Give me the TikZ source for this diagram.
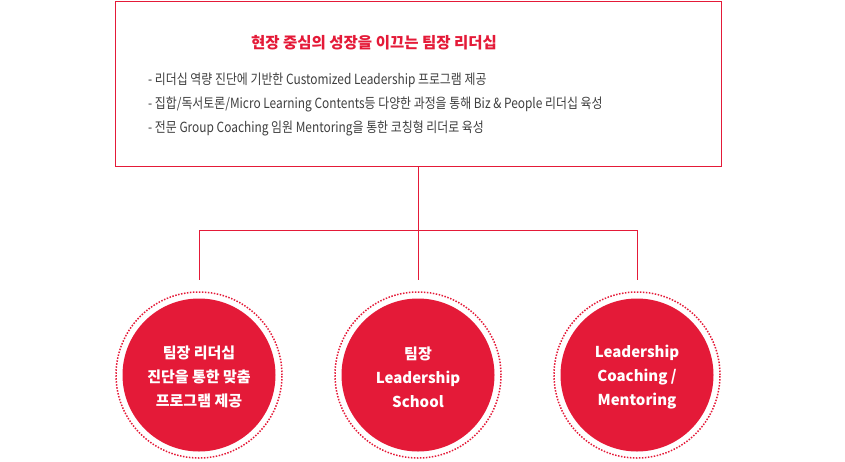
\documentclass[tikz,border=0pt]{standalone}
\usepackage{fontspec}
\setmainfont{Noto Sans CJK KR}
\usepackage{xcolor}
\usetikzlibrary{positioning}

\definecolor{leadred}{RGB}{228,26,56}
\definecolor{bodygray}{RGB}{62,62,62}

\begin{document}
\begin{tikzpicture}[x=1pt, y=-1pt, node distance=51.5pt,
		link/.style={draw=leadred, line width=1pt},
		topbox/.style={draw=leadred, line width=1pt, minimum width=606pt, minimum height=165pt, inner sep=0pt},
		points/.style={text=bodygray, font=\fontsize{14}{24}\selectfont\addfontfeature{FakeStretch=0.85}, align=left, inner sep=0pt, anchor=west},
		ring/.style={circle, draw=leadred, line width=1.5pt, dash pattern=on 1.5pt off 1.5pt, minimum size=166pt, inner sep=0pt},
		core/.style={circle, fill=leadred, minimum size=153pt, inner sep=0pt, text=white, align=center, font=\bfseries\fontsize{15}{24}\selectfont}]
			\useasboundingbox (0,0) rectangle (845,461);

			\node[topbox] (goal) at (418.5,83.5) {};
			\node[text=leadred, font=\bfseries\fontsize{15.5}{20}\selectfont] (title) at (374,43) {현장 중심의 성장을 이끄는 팀장 리더십};
			\node[points] (list) at (148,104) {- 리더십 역량 진단에 기반한 Customized Leadership 프로그램 제공\\
				- 집합/독서토론/Micro Learning Contents등 다양한 과정을 통해 Biz \& People 리더십 육성\\
				- 전문 Group Coaching 임원 Mentoring을 통한 코칭형 리더로 육성};

			\node[ring] (ring1) at (199,375) {};
			\node[ring] (ring2) [right=of ring1] {};
			\node[ring] (ring3) [right=of ring2] {};
			\node[core] (c1) at (ring1) {};
			\node[core] (c2) at (ring2) {};
			\node[core] (c3) at (ring3) {};
			\node[text=white, align=center, font=\bfseries\fontsize{15}{24}\selectfont] (t1) at ([yshift=-2pt]c1.center) {팀장 리더십\\진단을 통한 맞춤\\프로그램 제공};
			\node[text=white, align=center, font=\bfseries\fontsize{15}{24}\selectfont] (t2) at ([yshift=-2pt]c2.center) {팀장\\Leadership\\School};
			\node[text=white, align=center, font=\bfseries\fontsize{15}{24}\selectfont] (t3) at ([yshift=-2pt]c3.center) {Leadership\\Coaching /\\Mentoring};

			\coordinate (split) at (418.5,230);
			\draw[link] (goal.south) -- (split);
			\draw[link] (ring1.north |- split) -- (ring3.north |- split);
			\foreach \r in {ring1,ring2,ring3}
				\draw[link, shorten >=11pt] (\r.north |- split) -- (\r.north);
		\end{tikzpicture}
\end{document}
